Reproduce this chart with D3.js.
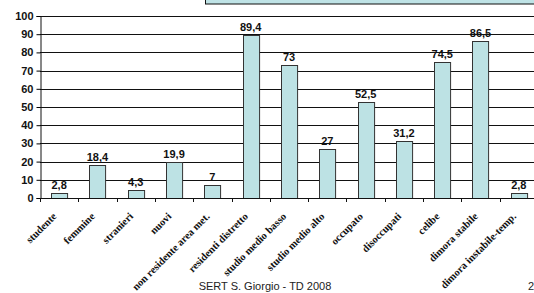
<!DOCTYPE html>
<html>
<head>
<meta charset="utf-8">
<script src="https://cdn.jsdelivr.net/npm/d3@7"></script>
<style>
  body { margin: 0; background: #fff; }
  svg { display: block; }
</style>
</head>
<body>
<svg id="chart" width="534" height="293"></svg>
<script>
const categories = ['studente', 'femmine', 'stranieri', 'nuovi', 'non residente area met.',
  'residenti distretto', 'studio medio basso', 'studio medio alto', 'occupato',
  'disoccupati', 'celibe', 'dimora stabile', 'dimora instabile-temp.'];
const values = [2.8, 18.4, 4.3, 19.9, 7, 89.4, 73, 27, 52.5, 31.2, 74.5, 86.5, 2.8];
const yTicks = [0, 10, 20, 30, 40, 50, 60, 70, 80, 90, 100];
const footer = 'SERT S. Giorgio - TD 2008';
const pageNo = '2';

const svg = d3.select('#chart');
const margin = {left: 40, top: 16, right: -4, bottom: 95};
const w = 534 - margin.left - margin.right;
const h = 293 - margin.top - margin.bottom;

// legend box cut at the top
svg.append('rect')
  .attr('x', 205.5).attr('y', -10).attr('width', 340).attr('height', 14)
  .attr('fill', '#bfe3e6').attr('stroke', '#111').attr('stroke-width', 1);

const g = svg.append('g').attr('transform', `translate(${margin.left},${margin.top})`);

const x = d3.scaleBand().domain(categories).range([0, w]).paddingInner(0.58).paddingOuter(0.29);
const xBand = d3.scaleBand().domain(categories).range([0, w]);
const y = d3.scaleLinear().domain([0, 100]).range([h, 0]);

// gridlines
g.selectAll('.grid').data(yTicks.filter(d => d > 0)).enter().append('line')
  .attr('x1', 0).attr('x2', w)
  .attr('y1', d => Math.round(y(d)) + 0.5).attr('y2', d => Math.round(y(d)) + 0.5)
  .attr('stroke', '#111').attr('stroke-width', 1);

// y axis
const yAxis = d3.axisLeft(y).tickValues(yTicks).tickSize(4).tickPadding(3);
const ya = g.append('g').attr('transform', 'translate(0.5,0)').call(yAxis);
ya.select('.domain').attr('stroke', '#111');
ya.selectAll('text').attr('font-family', 'Liberation Sans, Arial, sans-serif')
  .attr('font-weight', 'bold').attr('font-size', 11).attr('fill', '#111');

// bars
g.selectAll('.bar').data(values).enter().append('rect')
  .attr('x', (d, i) => Math.round(x(categories[i])) + 0.5)
  .attr('y', d => Math.round(y(d)) + 0.5)
  .attr('width', x.bandwidth())
  .attr('height', d => h - Math.round(y(d)))
  .attr('fill', '#bde2e4').attr('stroke', '#333').attr('stroke-width', 1);

// value labels
g.selectAll('.val').data(values).enter().append('text')
  .attr('x', (d, i) => x(categories[i]) + x.bandwidth() / 2)
  .attr('y', d => y(d) - 4)
  .attr('text-anchor', 'middle')
  .attr('font-family', 'Liberation Sans, Arial, sans-serif')
  .attr('font-weight', 'bold').attr('font-size', 11).attr('fill', '#111')
  .text(d => String(d).replace('.', ','));

// x axis line and ticks at band boundaries
g.append('line').attr('x1', 0).attr('x2', w).attr('y1', h + 0.5).attr('y2', h + 0.5)
  .attr('stroke', '#111');
g.selectAll('.xt').data(categories).enter().append('line')
  .attr('x1', d => Math.round(xBand(d)) + 0.5).attr('x2', d => Math.round(xBand(d)) + 0.5)
  .attr('y1', h).attr('y2', h + 4).attr('stroke', '#111');

// category labels
g.selectAll('.cat').data(categories).enter().append('text')
  .attr('transform', d => `translate(${xBand(d) + xBand.bandwidth() / 2 - 2},${h + 19}) rotate(-45)`)
  .attr('text-anchor', 'end')
  .attr('font-family', 'Liberation Serif, Times New Roman, serif')
  .attr('font-weight', 'bold').attr('font-size', 10.5).attr('fill', '#111')
  .text(d => d);

// footer
svg.append('text').attr('x', 265).attr('y', 290).attr('text-anchor', 'middle')
  .attr('font-family', 'Liberation Sans, Arial, sans-serif').attr('font-size', 11).attr('fill', '#222')
  .text(footer);
svg.append('text').attr('x', 528).attr('y', 290)
  .attr('font-family', 'Liberation Sans, Arial, sans-serif').attr('font-size', 11).attr('fill', '#222')
  .text(pageNo);
</script>
</body>
</html>
